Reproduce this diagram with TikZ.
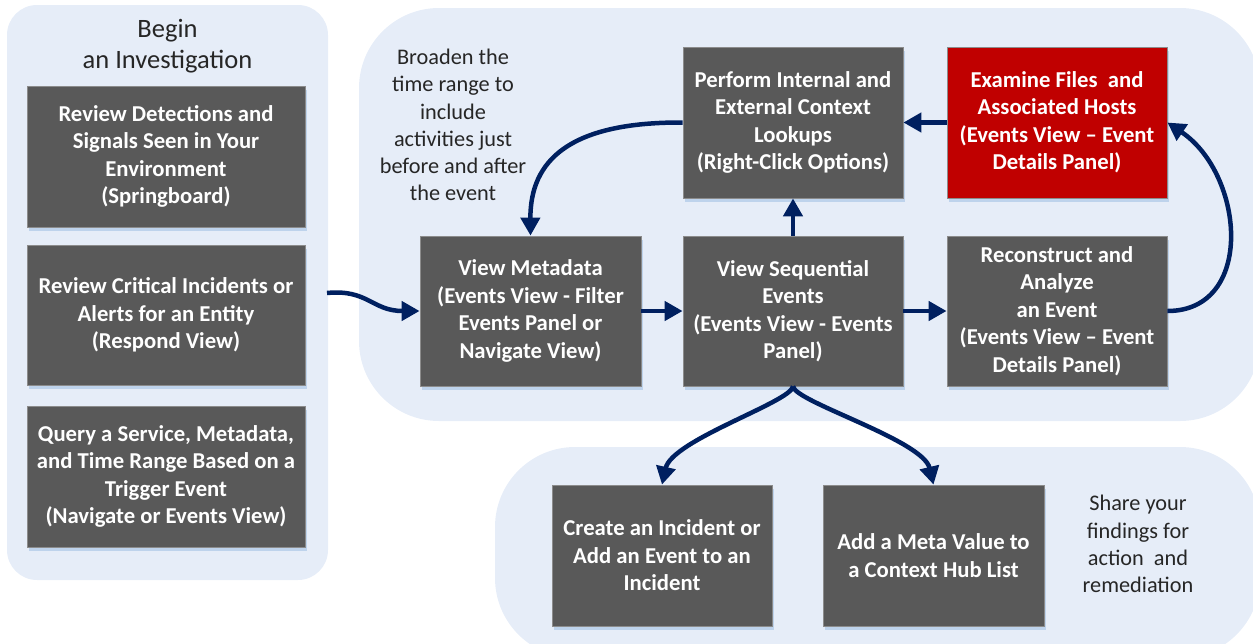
\documentclass[tikz,border=0pt]{standalone}
\usepackage{fontspec}
\setmainfont{Carlito}
\usetikzlibrary{arrows.meta,shadows}
\definecolor{panel}{RGB}{230,237,248}
\definecolor{boxgray}{RGB}{89,89,89}
\definecolor{boxedge}{RGB}{140,140,140}
\definecolor{boxred}{RGB}{192,0,0}
\definecolor{navy}{RGB}{0,32,96}
\definecolor{shadowblue}{RGB}{190,211,236}
\definecolor{notetext}{RGB}{38,38,38}
\begin{document}
\begin{tikzpicture}[x=1pt,y=-1pt,
  gbox/.style={fill=boxgray, draw=boxedge, line width=0.8pt, text=white,
    font=\fontsize{22.7}{27.5}\selectfont\bfseries, align=center, inner sep=0pt,
    drop shadow={shadow xshift=2pt, shadow yshift=-3.5pt, fill=shadowblue, opacity=1}},
  rbox/.style={gbox, fill=boxred},
  leftbox/.style={gbox, minimum width=278pt, minimum height=141pt},
  midbox/.style={gbox, minimum width=220pt, minimum height=151pt},
  lowbox/.style={gbox, minimum width=220pt, minimum height=141pt},
  note/.style={text=notetext, font=\fontsize{22.3}{27.3}\selectfont, align=center, inner sep=0pt},
  arr/.style={draw=navy, line width=4.5pt, -{Triangle[length=18pt,width=19pt]}}
]
\useasboundingbox (0,0) rectangle (1253,643);

% panels
\fill[panel, rounded corners=30pt] (7,5) rectangle (328,580);
\fill[panel, rounded corners=80pt] (359,8) rectangle (1260,421);
\fill[panel, rounded corners=80pt] (495,447) rectangle (1260,658);

% left column
\node[text=notetext, font=\fontsize{26.5}{31}\selectfont, align=center, inner sep=0pt] (begin) at (167.5,46) {Begin\\an Investigation};
\node[leftbox] (l1) at (166,156.5) {Review Detections and\\Signals Seen in Your\\Environment\\(Springboard)};
\node[leftbox, minimum height=140pt] (l2) at (166,315) {Review Critical Incidents or\\Alerts for an Entity\\(Respond View)};
\node[leftbox] (l3) at (166,476.5) {Query a Service, Metadata,\\and Time Range Based on a\\Trigger Event\\(Navigate or Events View)};

% middle region
\node[note] (broaden) at (453,125) {Broaden the\\time range to\\include\\activities just\\before and after\\the event};
\node[midbox, minimum width=221pt, minimum height=150pt] (meta) at (530.5,311) {View Metadata\\(Events View - Filter\\Events Panel or\\Navigate View)};
\node[midbox, minimum height=150pt] (seq) at (793,311) {View Sequential\\Events\\(Events View - Events\\Panel)};
\node[midbox, minimum height=150pt] (recon) at (1057,311) {Reconstruct and\\Analyze\\an Event\\(Events View – Event\\Details Panel)};
\node[midbox] (perf) at (793,122.5) {Perform Internal and\\External Context\\Lookups\\(Right-Click Options)};
\node[midbox, rbox] (exam) at (1057,122.5) {Examine Files~ and\\Associated Hosts\\(Events View – Event\\Details Panel)};

% bottom region
\node[lowbox] (create) at (662,555.5) {Create an Incident or\\Add an Event to an\\Incident};
\node[lowbox, minimum width=221pt] (addm) at (933.5,555.5) {Add a Meta Value to\\a Context Hub List};
\node[note] (share) at (1138,544) {Share your\\findings for\\action~ and\\remediation};

% connectors
\coordinate (start) at (327,293);
\draw[arr] (start) .. controls (368,289) and (372,311) .. (meta.west);
\draw[arr] (perf.west) .. controls (570,122) and (530,160) .. (meta.north);
\draw[arr] (meta.east) -- (seq.west);
\draw[arr] (seq.north) -- (perf.south);
\draw[arr] (seq.east) -- (recon.west);
\draw[arr] (recon.east) .. controls (1255,311) and (1245,175) .. (exam.east);
\draw[arr] (exam.west) -- (perf.east);
\draw[arr] (seq.south) .. controls (791,402) and (672,440) .. (create.north);
\draw[arr] (seq.south) .. controls (795,402) and (923,440) .. (addm.north);
\end{tikzpicture}
\end{document}
